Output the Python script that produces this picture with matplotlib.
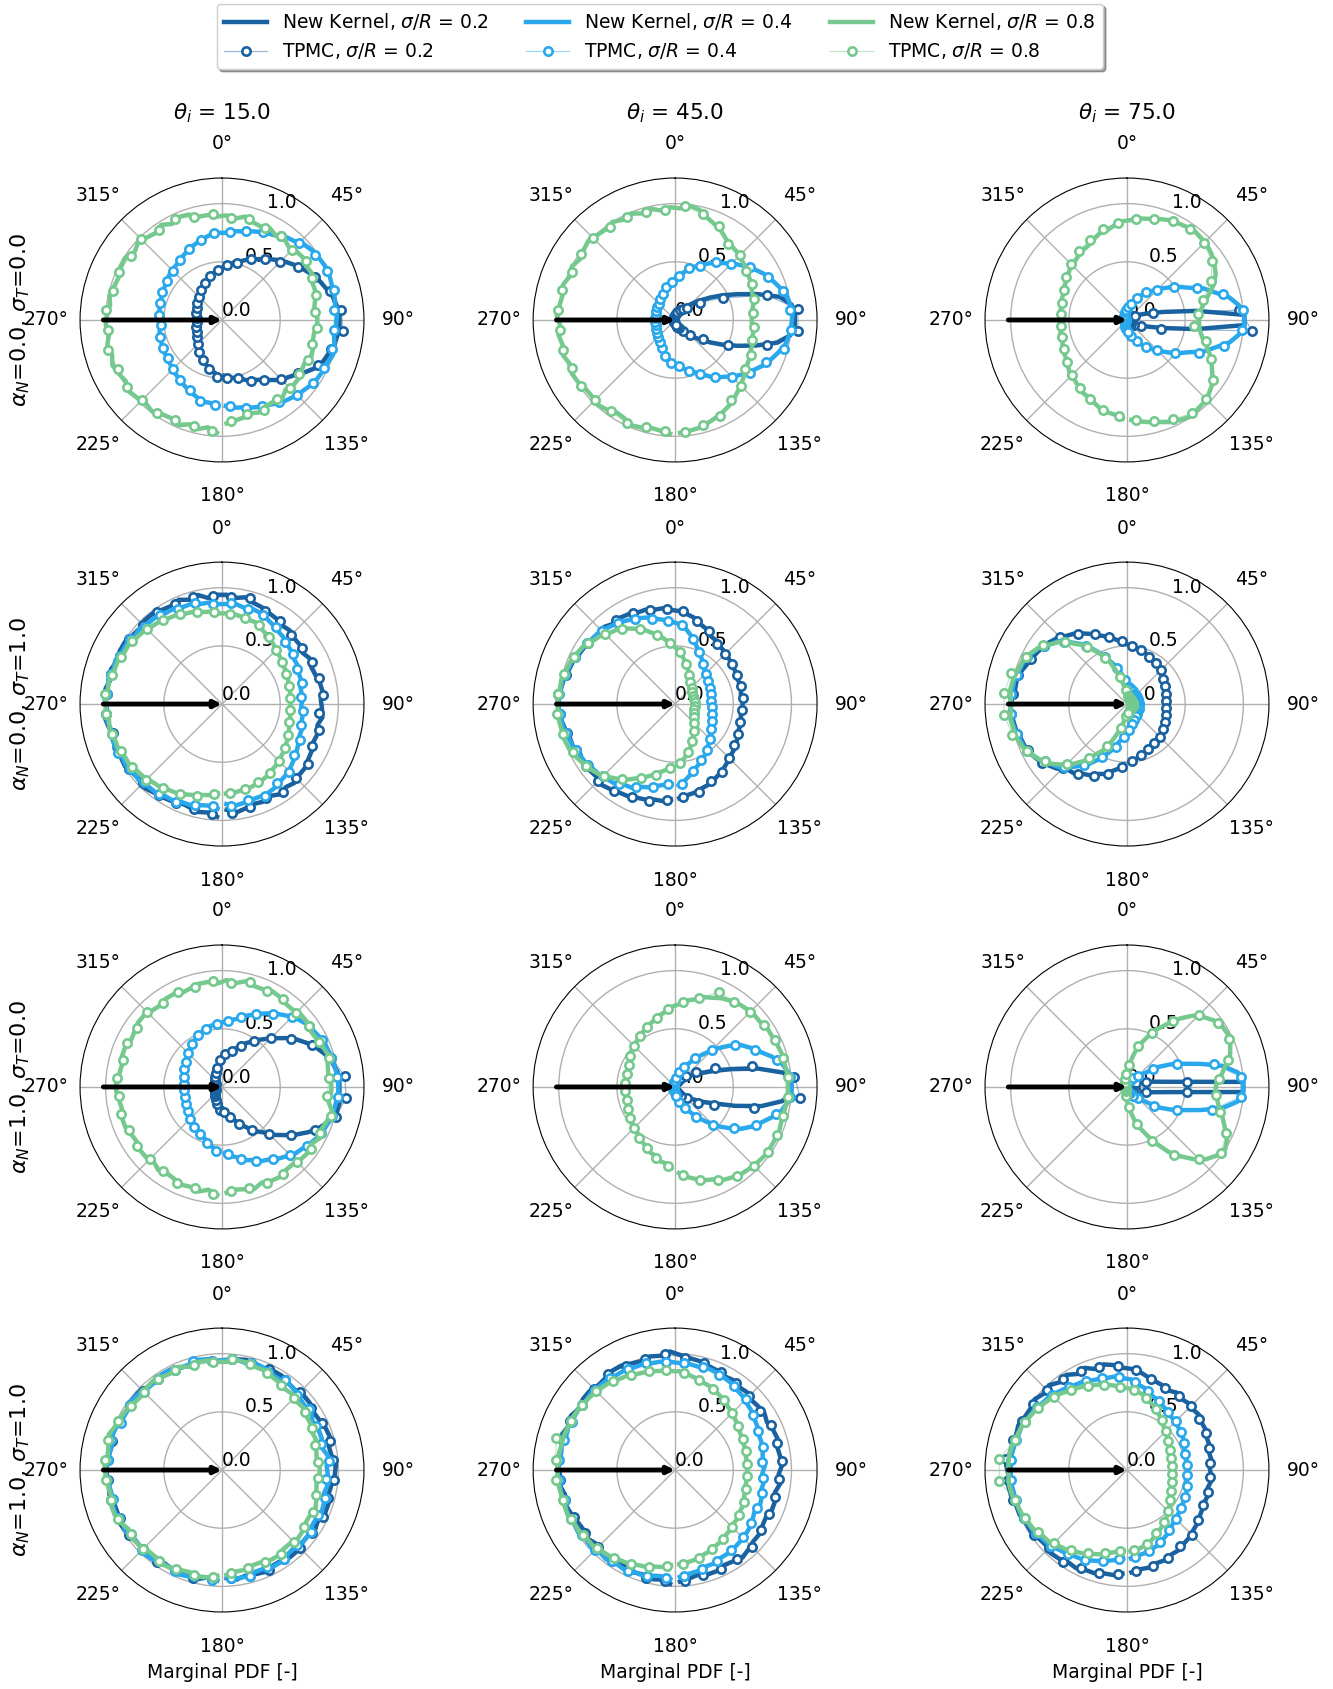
import numpy as np
import matplotlib.pyplot as plt
import matplotlib.colors as mcolors

# columns: incidence angle, rows: accommodation coefficients
theta_inc = [15.0, 45.0, 75.0]
alpha_n = [0.0, 0.0, 1.0, 1.0]
sigma_t = [0.0, 1.0, 0.0, 1.0]
sigma_r = [0.2, 0.4, 0.8]
colors = ['#1a61a0', '#2aa8ec', '#76c98e']

# marginal pdf (x100).
# kernel curves: 72 azimuth bins (5 deg), TPMC: 36 bins (10 deg),
# both from -180 to 180 deg, 0 = top, clockwise

# alpha_N = 0, sigma_T = 0
ker_r1_t15_s02 = [48,46,44,42,39,37,34,32,30,28,27,26,25,24,23,23,22,22,22,22,23,23,24,25,26,27,28,29,30,32,34,36,38,40,42,44,
                  46,48,51,53,56,59,62,66,70,74,78,82,86,90,93,97,99,101,101,100,99,96,94,90,84,78,74,70,65,61,58,56,53,51,50,48]
ker_r1_t15_s04 = [74,72,72,70,68,66,64,62,61,59,58,57,57,56,55,55,54,54,54,54,55,55,56,57,57,59,60,61,62,64,66,68,70,72,74,75,
                  75,77,78,80,82,84,86,90,92,96,98,99,100,100,99,99,98,99,98,97,99,100,98,97,96,94,92,90,88,85,83,81,79,77,76,74]
ker_r1_t15_s08 = [97,93,96,94,98,95,96,99,97,99,101,98,100,102,99,101,98,100,99,97,99,97,96,98,99,95,98,96,94,97,93,96,95,91,91,89,
                  90,88,91,88,87,89,86,88,85,87,88,86,87,84,84,82,80,82,82,80,80,82,83,80,81,83,83,81,85,83,83,86,84,86,87,89]
mc_r1_t15_s02 = [49,44,38,34,29,26,24,23,22,22,23,24,26,28,31,35,39,43,47,51,58,64,71,80,88,96,103,104,97,91,80,72,63,58,52,50]
mc_r1_t15_s04 = [73,72,66,63,60,57,56,55,53,54,55,57,58,60,63,67,71,75,76,79,83,88,93,98,100,100,97,97,98,97,95,91,86,82,78,74]
mc_r1_t15_s08 = [96,94,95,98,97,100,99,101,98,100,97,98,96,98,94,96,92,91,88,90,87,88,85,88,85,84,80,82,80,82,81,83,83,85,84,87]

ker_r1_t45_s02 = [4,3,3,3,2,2,2,2,1,1,1,1,1,1,1,1,1,1,1,1,1,1,1,1,1,1,1,1,2,2,2,2,2,3,3,4,
                  4,5,6,7,8,10,12,14,17,22,28,36,46,58,74,92,101,103,103,100,90,73,58,46,36,28,22,17,14,12,10,8,7,6,5,4]
ker_r1_t45_s04 = [39,35,34,30,28,26,24,22,21,20,19,19,18,18,17,17,17,17,17,17,17,17,18,18,19,19,20,21,22,23,24,26,28,30,32,34,
                  37,40,43,47,50,54,58,62,66,71,76,81,86,90,94,98,100,101,100,99,97,93,89,85,80,76,71,66,62,58,53,49,46,44,41,39]
ker_r1_t45_s08 = [98,96,95,97,98,95,94,97,99,97,97,99,100,98,101,99,101,99,102,100,99,101,98,100,97,99,101,99,98,100,97,99,96,98,95,97,
                  96,99,97,92,89,86,82,80,79,77,76,74,73,71,70,69,67,66,66,68,68,70,70,72,73,76,78,81,84,87,89,91,93,95,96,97]
mc_r1_t45_s02 = [3,2,2,1,1,1,1,1,1,1,1,1,1,1,2,2,3,4,5,7,9,12,15,26,45,82,106,106,82,50,29,18,12,8,6,4]
mc_r1_t45_s04 = [37,32,27,23,21,19,18,17,17,17,17,18,19,20,22,25,29,33,38,46,51,61,68,79,88,96,99,100,97,86,79,69,60,51,45,40]
mc_r1_t45_s08 = [96,95,98,96,97,99,98,100,99,101,101,98,99,100,98,98,96,95,98,94,89,80,79,74,73,70,67,68,68,72,73,80,84,91,93,97]

ker_r1_t75_s02 = [2,2,2,1,1,1,1,1,1,1,1,1,1,1,1,1,1,1,1,1,1,1,1,1,1,1,1,1,1,1,1,2,2,2,2,2,
                  2,2,2,2,3,3,3,4,4,5,6,7,9,12,19,32,60,101,101,60,32,19,12,9,7,6,5,4,4,3,3,3,2,2,2,2]
ker_r1_t75_s04 = [9,7,6,5,4,4,3,3,2,2,2,2,1,1,1,1,1,1,1,1,1,1,1,1,2,2,2,2,3,3,4,4,5,6,8,9,
                  10,11,12,15,18,23,26,30,35,40,46,53,60,71,79,90,97,101,101,97,90,79,71,60,53,46,40,35,30,26,22,18,15,13,11,10]
ker_r1_t75_s08 = [85,82,81,79,76,74,73,70,68,67,64,62,61,60,58,59,57,58,56,58,57,59,59,61,62,64,66,67,69,71,72,75,78,79,82,85,
                  86,88,89,91,93,94,95,96,95,94,92,89,86,81,74,68,64,62,62,63,66,71,77,82,87,92,95,97,98,99,97,95,92,90,88,86]
mc_r1_t75_s02 = [2,1,1,1,1,1,1,1,1,1,1,1,1,1,1,1,2,2,2,2,3,3,4,6,8,23,97,108,30,13,7,5,3,3,2,2]
mc_r1_t75_s04 = [8,6,4,3,2,2,1,1,1,1,1,2,2,3,4,5,7,9,11,14,21,29,37,49,66,85,100,99,86,68,50,37,28,20,14,10]
mc_r1_t75_s08 = [83,80,75,71,67,63,60,58,57,57,58,60,64,68,72,76,81,84,87,90,94,95,93,89,80,68,61,58,70,80,90,96,98,94,90,86]

# alpha_N = 0, sigma_T = 1
ker_r2_t15_s02 = [97,94,95,93,92,94,95,96,98,96,97,99,98,100,97,99,101,99,100,101,98,100,97,99,99,97,96,98,98,96,95,97,94,96,92,94,
                  94,92,94,91,90,88,87,85,86,84,84,82,85,83,84,86,87,85,86,87,84,86,85,87,88,90,90,92,90,92,89,91,90,92,94,91]
ker_r2_t15_s04 = [90,88,89,91,91,93,93,95,95,97,96,98,97,99,99,98,100,99,101,99,100,98,99,97,97,95,96,94,94,92,92,90,90,88,88,86,
                  86,87,85,86,85,83,81,79,78,76,75,73,73,71,71,69,69,69,68,70,70,72,72,74,76,78,80,82,83,85,86,86,86,87,88,86]
ker_r2_t15_s08 = [77,79,80,82,84,86,87,89,90,92,93,95,95,97,97,99,98,100,100,99,99,97,97,95,95,93,92,90,89,87,86,84,83,81,80,78,
                  78,78,77,76,76,73,71,69,67,65,64,62,62,61,60,60,59,59,59,59,60,61,62,64,65,67,68,70,71,73,74,75,76,76,77,77]
mc_r2_t15_s02 = [95,93,94,95,96,98,98,97,100,99,99,97,98,96,97,95,95,93,92,94,88,87,84,84,85,86,87,84,86,85,90,90,92,89,92,94]
mc_r2_t15_s04 = [88,90,93,94,95,97,99,98,100,99,99,97,97,94,93,90,90,86,87,85,84,81,76,75,71,71,68,70,70,74,76,82,83,87,85,88]
mc_r2_t15_s08 = [78,82,85,88,92,94,96,98,100,101,98,96,94,91,88,85,82,79,78,77,75,70,66,63,61,60,59,59,60,63,66,69,72,74,76,77]

ker_r2_t45_s02 = [82,84,84,86,87,89,90,92,94,92,93,94,92,95,95,97,99,100,101,99,98,96,95,93,92,90,89,90,87,88,87,85,85,83,83,81,
                  80,78,76,72,70,66,65,63,62,61,60,59,59,58,58,58,57,58,58,57,58,59,59,61,62,64,65,67,69,71,73,75,76,78,79,81]
ker_r2_t45_s04 = [69,70,72,75,77,81,82,86,87,89,90,92,93,95,96,98,99,100,100,99,99,97,96,94,93,91,90,88,86,84,82,80,78,75,73,71,
                  69,66,61,56,51,47,44,41,38,36,35,34,33,33,32,32,32,32,32,32,33,33,34,36,37,39,41,44,46,50,52,55,58,62,66,70]
ker_r2_t45_s08 = [53,57,60,64,68,72,77,81,85,89,92,94,97,99,100,100,101,101,101,100,100,98,97,95,93,89,87,83,81,77,73,69,64,60,55,51,
                  47,43,38,34,30,26,24,22,21,19,18,18,17,17,17,17,17,17,17,17,17,17,18,18,19,21,22,24,26,30,33,37,41,45,49,53]
mc_r2_t45_s02 = [83,86,88,91,94,93,94,96,99,101,97,95,91,89,88,86,84,82,80,74,69,63,61,60,59,59,59,58,58,60,62,66,71,73,78,80]
mc_r2_t45_s04 = [69,74,79,84,88,91,94,97,99,100,98,95,92,89,85,81,76,72,68,58,49,42,37,35,33,32,31,32,33,35,38,42,48,53,60,69]
mc_r2_t45_s08 = [55,63,70,79,87,93,97,100,102,101,99,96,91,85,79,71,61,53,45,36,28,23,20,18,17,17,17,17,17,18,20,23,28,35,43,51]

ker_r2_t75_s02 = [52,56,59,63,65,69,71,75,76,82,86,90,93,95,96,98,99,100,99,97,97,95,92,90,88,86,83,79,76,72,68,64,61,58,55,52,
                  51,49,48,47,46,44,43,42,41,40,38,37,36,36,35,35,34,34,34,34,35,35,36,37,38,39,40,40,41,42,43,44,45,47,48,50]
ker_r2_t75_s04 = [26,30,34,41,47,54,61,67,74,80,84,89,93,96,97,99,100,100,100,99,99,97,96,93,90,84,80,72,65,57,49,41,35,29,24,19,
                  16,14,13,13,12,12,11,11,11,11,10,10,10,10,10,10,10,10,10,10,10,10,11,11,11,11,12,12,13,14,15,16,17,19,21,24]
ker_r2_t75_s08 = [8,13,18,26,35,45,52,62,70,77,84,89,93,97,99,100,101,100,100,101,100,98,97,94,90,84,79,71,64,56,48,40,29,21,14,10,
                  8,7,6,6,5,5,5,5,5,5,5,5,5,5,5,5,5,5,5,5,5,5,5,5,5,5,5,5,5,5,6,6,7,7,8,8]
mc_r2_t75_s02 = [54,62,68,73,78,89,94,98,100,98,97,91,87,82,74,66,60,54,50,48,45,43,41,38,36,35,34,34,35,36,38,40,41,43,45,49]
mc_r2_t75_s04 = [28,38,50,64,77,86,95,98,100,100,98,95,87,76,61,45,32,21,15,13,12,11,11,10,10,10,10,10,10,11,11,12,13,15,18,22]
mc_r2_t75_s08 = [10,21,40,57,73,86,95,102,106,106,103,96,88,75,60,44,24,12,7,6,5,5,5,5,5,5,5,5,5,5,5,5,5,6,7,8]

# alpha_N = 1, sigma_T = 0
ker_r3_t15_s02 = [21,18,16,14,13,11,10,9,8,8,7,7,6,6,6,6,6,6,6,6,6,6,6,6,7,7,8,9,10,11,12,14,16,19,21,24,
                  26,28,30,34,37,42,46,51,56,62,69,76,82,88,93,97,100,101,101,102,101,97,91,84,76,68,61,53,48,42,37,32,29,26,24,22]
ker_r3_t15_s04 = [56,53,51,47,46,44,43,41,40,38,37,35,35,34,33,33,33,33,33,33,33,34,35,36,37,39,40,42,44,46,48,50,51,53,54,55,
                  56,58,60,64,67,71,75,79,83,87,90,92,94,96,97,98,99,100,100,99,98,97,95,93,90,87,85,81,78,74,72,68,66,62,60,57]
ker_r3_t15_s08 = [93,89,92,90,91,89,88,90,87,89,89,87,88,90,90,88,89,91,91,89,88,90,90,88,89,91,91,89,88,90,90,88,89,91,91,89,
                  92,90,93,91,91,93,92,90,90,92,92,90,91,93,95,93,92,94,94,92,97,95,93,95,91,93,92,90,90,92,91,89,92,90,89,91]
mc_r3_t15_s02 = [20,15,12,10,8,7,6,6,6,6,6,6,7,8,10,13,17,23,28,32,39,48,59,72,85,97,106,107,101,88,72,57,45,35,27,22]
mc_r3_t15_s04 = [55,50,45,42,39,36,34,33,33,33,34,36,38,41,45,49,52,54,57,62,69,77,85,91,95,97,99,100,98,94,89,83,76,70,64,58]
mc_r3_t15_s08 = [92,90,91,88,87,89,88,90,89,91,88,90,89,91,88,90,89,91,90,93,91,92,90,91,92,95,92,91,97,93,93,91,91,91,90,90]

ker_r3_t45_s02 = [3,3,2,2,2,2,1,1,1,1,1,1,1,1,1,1,1,1,1,1,1,1,1,1,1,1,1,1,1,2,2,2,2,2,3,3,
                  3,3,4,4,5,6,7,9,11,13,16,20,26,36,51,73,94,100,100,93,76,54,37,28,21,16,13,11,9,7,6,5,4,4,3,3]
ker_r3_t45_s04 = [6,5,4,4,3,3,2,2,2,2,1,1,1,1,1,1,1,1,1,1,1,1,1,1,2,2,2,2,3,3,3,4,4,5,5,6,
                  7,9,11,14,17,21,26,33,40,49,58,67,73,79,87,94,98,100,100,98,94,87,80,74,67,58,50,41,34,27,22,18,15,12,10,8]
ker_r3_t45_s08 = [70,66,65,61,60,56,55,52,51,49,48,46,45,44,44,43,43,43,43,43,43,43,44,45,46,48,49,51,52,54,56,58,60,63,65,69,
                  71,75,77,81,83,86,88,90,91,92,92,94,94,95,96,96,97,97,97,97,96,96,97,97,97,97,96,95,94,92,90,86,84,81,78,74]
mc_r3_t45_s02 = [3,2,2,1,1,1,1,1,1,1,1,1,1,1,2,2,2,3,3,4,6,9,13,22,38,68,103,108,70,37,24,14,9,6,4,3]
mc_r3_t45_s04 = [5,4,3,2,2,1,1,1,1,1,1,1,1,2,2,3,4,5,8,13,19,30,45,63,76,91,99,99,90,77,62,46,31,20,13,8]
mc_r3_t45_s08 = [68,63,58,54,50,47,45,43,43,43,43,44,47,50,53,57,61,67,73,79,90,89,91,93,95,96,97,97,96,97,97,96,93,88,83,76]

ker_r3_t75_s02 = [2,2,2,1,1,1,1,1,1,1,1,1,1,1,1,1,1,1,1,1,1,1,1,1,1,1,1,1,1,1,1,1,2,2,2,2,
                  2,2,2,2,2,2,3,3,4,5,6,8,10,12,15,21,34,100,100,34,21,15,12,10,8,6,5,4,3,3,2,2,2,2,2,2]
ker_r3_t75_s04 = [3,3,3,2,2,2,2,1,1,1,1,1,1,1,1,1,1,1,1,1,1,1,1,1,1,1,1,1,2,2,2,2,3,3,3,3,
                  4,4,5,5,6,7,8,10,12,15,20,32,42,52,66,84,96,100,100,96,84,66,52,42,33,22,15,12,10,8,7,6,5,5,4,4]
ker_r3_t75_s08 = [9,6,4,3,3,2,2,2,2,2,2,2,2,2,2,2,2,2,2,2,2,2,2,2,2,2,2,2,2,3,3,4,5,7,9,12,
                  15,22,30,39,47,56,64,74,83,89,94,97,98,96,93,87,82,77,76,78,81,86,91,97,100,97,92,84,75,66,55,45,37,29,21,14]
mc_r3_t75_s02 = [2,1,1,1,1,1,1,1,1,1,1,1,1,1,1,1,1,2,2,2,2,3,4,6,9,17,52,52,17,9,6,4,3,2,2,2]
mc_r3_t75_s04 = [3,3,2,2,1,1,1,1,1,1,1,1,1,1,2,2,3,3,4,5,6,9,13,27,47,77,98,98,76,47,28,13,9,6,5,4]
mc_r3_t75_s08 = [8,4,3,2,2,2,2,2,2,2,2,2,2,2,3,4,7,11,19,36,51,69,87,96,97,90,79,77,83,94,99,88,71,51,33,17]

# alpha_N = 1, sigma_T = 1
ker_r4_t15_s02 = [95,93,96,94,97,95,94,97,98,96,96,98,99,97,97,99,98,99,100,98,97,99,99,97,96,98,98,96,95,97,97,95,94,96,96,94,
                  94,96,97,95,94,96,96,94,93,95,95,93,94,96,97,94,95,98,97,95,94,96,96,93,95,93,93,95,95,93,93,95,94,93,95,93]
ker_r4_t15_s04 = [95,93,94,96,97,95,95,97,98,96,96,98,97,99,99,97,98,100,99,98,97,99,98,96,96,98,97,95,95,97,97,95,95,97,96,94,
                  95,96,94,96,95,93,92,94,93,91,90,91,88,90,90,88,92,90,91,92,90,92,93,91,91,93,93,91,92,94,94,92,92,94,94,92]
ker_r4_t15_s08 = [91,93,94,92,93,95,96,94,94,96,97,95,98,100,100,98,99,100,101,99,100,102,99,98,97,95,94,96,97,95,94,96,93,95,95,93,
                  93,95,95,93,93,91,90,88,89,87,88,86,86,84,85,83,82,84,84,82,83,85,87,85,85,87,88,86,86,88,88,86,86,88,88,90]
mc_r4_t15_s02 = [94,96,95,97,96,98,97,99,98,98,98,97,97,96,96,95,95,94,96,95,96,94,95,93,95,96,96,97,94,96,94,95,93,95,94,93]
mc_r4_t15_s04 = [95,94,96,95,97,96,98,97,99,98,99,96,97,95,96,95,97,94,96,95,93,94,91,91,89,88,92,90,92,91,93,91,93,92,94,93]
mc_r4_t15_s08 = [92,93,94,95,96,96,99,99,100,101,101,99,96,95,96,95,93,93,96,94,92,89,88,87,85,83,83,83,84,86,86,87,88,87,87,89]

ker_r4_t45_s02 = [98,95,96,94,95,93,93,95,95,93,96,94,95,97,99,97,100,99,101,99,100,102,99,101,98,100,100,98,99,101,101,99,98,100,99,102,
                  99,97,96,94,93,91,92,90,91,89,90,91,89,91,92,90,91,92,89,91,88,90,90,88,89,91,91,93,95,93,92,94,94,92,94,96]
ker_r4_t45_s04 = [94,92,93,95,94,96,95,97,96,98,97,99,98,100,99,100,100,101,100,99,100,98,99,98,98,97,98,97,97,96,96,95,95,94,94,93,
                  92,92,91,92,91,90,89,87,86,84,83,81,80,78,78,77,76,77,75,77,76,78,79,77,79,81,82,83,84,85,85,87,87,89,90,92]
ker_r4_t45_s08 = [82,84,85,87,88,90,91,93,94,96,96,98,98,100,100,100,101,101,101,101,100,100,99,99,98,97,96,95,94,92,91,89,88,87,86,85,
                  85,83,81,79,78,76,74,72,70,68,67,65,64,63,63,62,62,62,62,62,62,63,64,66,66,68,68,70,71,73,74,76,77,79,80,81]
mc_r4_t45_s02 = [96,96,93,95,94,95,96,98,99,101,100,100,98,99,101,99,99,100,97,95,93,91,90,89,91,91,92,90,89,89,90,93,93,94,93,96]
mc_r4_t45_s04 = [93,94,96,95,97,98,99,98,100,100,99,98,98,97,97,96,95,93,92,92,90,88,86,82,79,78,75,76,77,78,80,82,84,86,88,91]
mc_r4_t45_s08 = [83,86,89,92,95,97,99,100,103,103,106,99,98,96,93,90,88,86,84,80,77,73,69,66,64,63,62,62,63,65,67,69,72,75,78,81]

ker_r4_t75_s02 = [89,91,91,93,93,95,94,96,97,95,96,98,98,100,100,102,103,102,104,102,101,100,101,99,98,100,97,99,95,97,93,95,91,93,91,88,
                  87,85,82,80,79,77,79,77,78,77,78,76,76,74,74,72,73,71,72,73,71,73,72,73,74,76,77,79,80,82,82,84,84,86,86,88]
ker_r4_t75_s04 = [76,78,80,82,84,86,87,89,91,93,94,96,97,99,99,99,100,100,100,100,99,98,98,96,95,93,92,90,88,86,85,83,82,81,81,79,
                  78,74,72,68,66,64,62,60,59,58,57,56,55,53,52,52,52,52,52,52,52,54,55,56,56,58,58,60,62,65,67,70,71,73,74,76]
ker_r4_t75_s08 = [69,71,73,76,78,81,83,86,88,91,92,95,96,98,99,101,102,102,102,102,101,99,98,96,94,92,90,88,85,83,81,79,77,75,73,71,
                  70,68,66,62,60,56,54,50,48,46,44,42,41,40,39,39,39,39,39,39,39,40,41,43,44,47,49,52,54,57,59,62,65,67,69,70]
mc_r4_t75_s02 = [90,92,93,96,95,98,98,101,103,104,101,100,99,97,96,94,92,90,86,81,78,78,78,76,75,73,72,72,72,72,75,79,80,83,85,87]
mc_r4_t75_s04 = [77,81,85,88,92,95,98,99,100,100,99,97,94,91,87,84,82,80,76,70,65,61,59,57,54,52,52,52,53,55,57,59,63,68,72,75]
mc_r4_t75_s08 = [70,74,79,84,89,93,97,100,110,110,100,97,93,89,84,80,76,72,69,64,58,52,47,43,41,39,39,39,40,42,45,50,55,60,66,69]

kernel = [
    [[ker_r1_t15_s02, ker_r1_t15_s04, ker_r1_t15_s08], [ker_r1_t45_s02, ker_r1_t45_s04, ker_r1_t45_s08], [ker_r1_t75_s02, ker_r1_t75_s04, ker_r1_t75_s08]],
    [[ker_r2_t15_s02, ker_r2_t15_s04, ker_r2_t15_s08], [ker_r2_t45_s02, ker_r2_t45_s04, ker_r2_t45_s08], [ker_r2_t75_s02, ker_r2_t75_s04, ker_r2_t75_s08]],
    [[ker_r3_t15_s02, ker_r3_t15_s04, ker_r3_t15_s08], [ker_r3_t45_s02, ker_r3_t45_s04, ker_r3_t45_s08], [ker_r3_t75_s02, ker_r3_t75_s04, ker_r3_t75_s08]],
    [[ker_r4_t15_s02, ker_r4_t15_s04, ker_r4_t15_s08], [ker_r4_t45_s02, ker_r4_t45_s04, ker_r4_t45_s08], [ker_r4_t75_s02, ker_r4_t75_s04, ker_r4_t75_s08]],
]
tpmc = [
    [[mc_r1_t15_s02, mc_r1_t15_s04, mc_r1_t15_s08], [mc_r1_t45_s02, mc_r1_t45_s04, mc_r1_t45_s08], [mc_r1_t75_s02, mc_r1_t75_s04, mc_r1_t75_s08]],
    [[mc_r2_t15_s02, mc_r2_t15_s04, mc_r2_t15_s08], [mc_r2_t45_s02, mc_r2_t45_s04, mc_r2_t45_s08], [mc_r2_t75_s02, mc_r2_t75_s04, mc_r2_t75_s08]],
    [[mc_r3_t15_s02, mc_r3_t15_s04, mc_r3_t15_s08], [mc_r3_t45_s02, mc_r3_t45_s04, mc_r3_t45_s08], [mc_r3_t75_s02, mc_r3_t75_s04, mc_r3_t75_s08]],
    [[mc_r4_t15_s02, mc_r4_t15_s04, mc_r4_t15_s08], [mc_r4_t45_s02, mc_r4_t45_s04, mc_r4_t45_s08], [mc_r4_t75_s02, mc_r4_t75_s04, mc_r4_t75_s08]],
]


def bin_centers(n):
    step = 360.0 / n
    return np.deg2rad(-180.0 + step / 2 + step * np.arange(n))


fig = plt.figure(figsize=(13.33, 16.89), dpi=100)
lefts = [0.0600, 0.3999, 0.7389]
bottoms = [0.7265, 0.4991, 0.2724, 0.0456]
w, h = 0.2131, 0.1681

handles = []
for i in range(4):
    for j in range(3):
        ax = fig.add_axes([lefts[j], bottoms[i], w, h], projection='polar')
        ax.set_theta_zero_location('N')
        ax.set_theta_direction(-1)
        for k in range(3):
            rk = np.array(kernel[i][j][k]) / 100
            lk, = ax.plot(bin_centers(len(rk)), rk, color=colors[k], lw=3.2,
                          label=f'New Kernel, $\\sigma/R$ = {sigma_r[k]}')
            rt = np.array(tpmc[i][j][k]) / 100
            lt, = ax.plot(bin_centers(len(rt)), rt, color=mcolors.to_rgba(colors[k], 0.45), lw=0.9,
                          marker='o', ms=6, mfc='white', mec=colors[k], mew=1.9,
                          label=f'TPMC, $\\sigma/R$ = {sigma_r[k]}')
            if i == 0 and j == 0:
                handles += [lk, lt]
        # incoming direction
        ax.annotate('', xy=(0, 0), xytext=(np.deg2rad(270), 1.02),
                    arrowprops=dict(arrowstyle='-|>', color='k', lw=3.5, shrinkA=0, shrinkB=0),
                    zorder=6)
        ax.set_ylim(0, 1.22)
        ax.set_yticks([0, 0.5, 1.0])
        ax.set_yticklabels(['0.0', '0.5', '1.0'])
        ax.tick_params(labelsize=13.5)
        ax.tick_params(axis='x', pad=14)
        ax.grid(True, color='#b0b0b0', lw=1.0)
        if i == 0:
            ax.set_title(f'$\\theta_i$ = {theta_inc[j]}', fontsize=15.5, y=1.205, pad=0)
        if j == 0:
            ax.set_ylabel(f'$\\alpha_N$={alpha_n[i]}, $\\sigma_T$={sigma_t[i]}', fontsize=16)
            ax.yaxis.set_label_coords(-0.17, 0.5)
        if i == 3:
            ax.set_xlabel('Marginal PDF [-]', fontsize=13.5)
            ax.xaxis.set_label_coords(0.5, -0.18)

fig.legend(handles, [hd.get_label() for hd in handles], loc='upper center',
           bbox_to_anchor=(0.495, 0.999), borderaxespad=0.1, ncol=3, fontsize=13.5,
           shadow=True, handlelength=2.3, columnspacing=2.0)

fig.savefig('out.png', dpi=100)
